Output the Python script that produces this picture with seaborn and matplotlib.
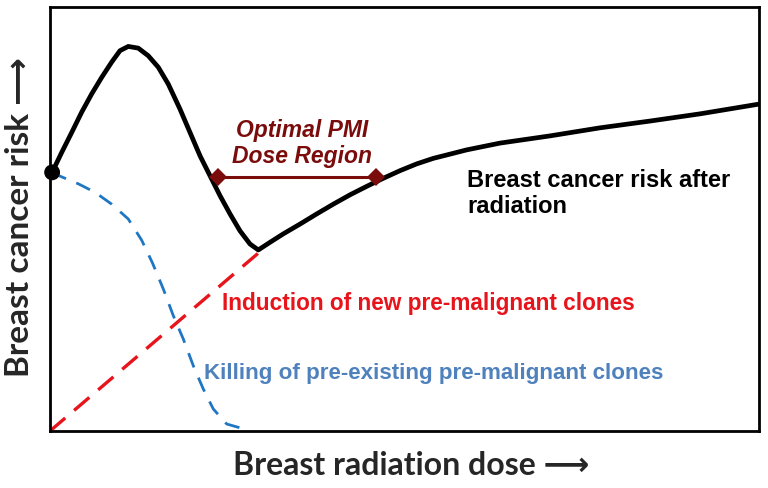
import matplotlib
matplotlib.use("Agg")
import matplotlib.pyplot as plt
import seaborn as sns

# Dose (0-100) vs relative risk (0-100)
risk_dose = [0.3, 1.65, 3.06, 4.47, 5.88, 7.29, 8.70, 9.87, 11.04, 12.45, 13.86, 15.27,
             16.69, 18.34, 19.75, 21.16, 22.57, 23.98, 25.39, 26.80, 28.21, 29.38,
             31.03, 32.91, 35.26, 37.62, 39.96, 42.31, 44.67, 47.01, 49.37, 51.72,
             54.06, 56.42, 58.77, 63.47, 70.52, 77.57, 84.63, 91.68, 100]
risk_value = [61.0, 65.7, 70.4, 75.2, 79.5, 83.4, 87.0, 89.7, 90.7, 90.3, 88.5, 85.8,
              81.8, 75.9, 70.4, 64.9, 60.2, 55.5, 51.2, 47.2, 44.1, 42.7,
              44.5, 46.5, 48.8, 51.2, 53.5, 55.7, 57.7, 59.6, 61.4, 63.0,
              64.3, 65.3, 66.3, 67.9, 69.6, 71.5, 73.1, 74.8, 77.1]

induction_dose = [0, 29.9]
induction_value = [0, 42.7]

killing_dose = [0.3, 0.7, 3.99, 6.35, 8.70, 11.04, 12.93, 14.46, 15.98, 17.39, 18.80,
                20.21, 21.62, 23.03, 24.92, 27.74]
killing_value = [61.0, 60.6, 58.3, 56.3, 53.5, 50.0, 45.0, 39.6, 33.5, 27.2, 21.7,
                 15.4, 9.9, 5.2, 1.65, 0.3]

pmi_dose = [23.7, 46.0]
pmi_value = [59.9, 59.9]

sns.set_style("white")

fig = plt.figure(figsize=(7.68, 4.89), dpi=100)
ax = fig.add_axes([50 / 768, 1 - 432 / 489, 709 / 768, 424 / 489])

dark_red = "#7a0c0c"
red = "#e8141b"
blue = "#1f77c4"

sns.lineplot(x=induction_dose, y=induction_value, ax=ax, color=red, lw=2.4,
             linestyle=(0, (6, 3.5)))
sns.lineplot(x=killing_dose, y=killing_value, ax=ax, color=blue, lw=2.0,
             linestyle=(0, (5.5, 4)), sort=False)
sns.lineplot(x=risk_dose, y=risk_value, ax=ax, color="black", lw=3.4, sort=False)
sns.lineplot(x=pmi_dose, y=pmi_value, ax=ax, color=dark_red, lw=2.2,
             marker="D", markersize=9, markeredgewidth=0)
sns.scatterplot(x=[risk_dose[0]], y=[risk_value[0]], ax=ax, color="black", s=130,
                zorder=5, clip_on=False, edgecolor="none")

ax.set_xlim(0, 100)
ax.set_ylim(0, 100)
ax.set_xticks([])
ax.set_yticks([])
for s in ax.spines.values():
    s.set_visible(True)
    s.set_color("black")
    s.set_linewidth(2)

txt = dict(fontfamily="Liberation Sans", fontweight="bold")
ax.text(35.5, 68.0, "Optimal PMI\nDose Region", color=dark_red, fontstyle="italic",
        ha="center", va="center", linespacing=1.15, fontsize=16.5, **txt)
ax.text(58.8, 56.3, "Breast cancer risk after\nradiation", color="black",
        ha="left", va="center", linespacing=1.15, fontsize=17, **txt)
ax.text(24.3, 30.4, "Induction of new pre-malignant clones", color=red,
        ha="left", va="center", fontsize=16.3, **txt)
ax.text(21.7, 13.9, "Killing of pre-existing pre-malignant clones", color="#4f81bd",
        ha="left", va="center", fontsize=16.1, **txt)

lab = dict(fontfamily=["Lato", "DejaVu Sans"], fontweight="bold")
ax.set_xlabel("Breast radiation dose \u27f6", fontsize=23, **lab)
ax.set_ylabel("Breast cancer risk \u27f6", fontsize=24, **lab)
ax.xaxis.set_label_coords(0.51, -0.045)
ax.yaxis.set_label_coords(-0.022, 0.507)

fig.savefig("out.png", dpi=100)
